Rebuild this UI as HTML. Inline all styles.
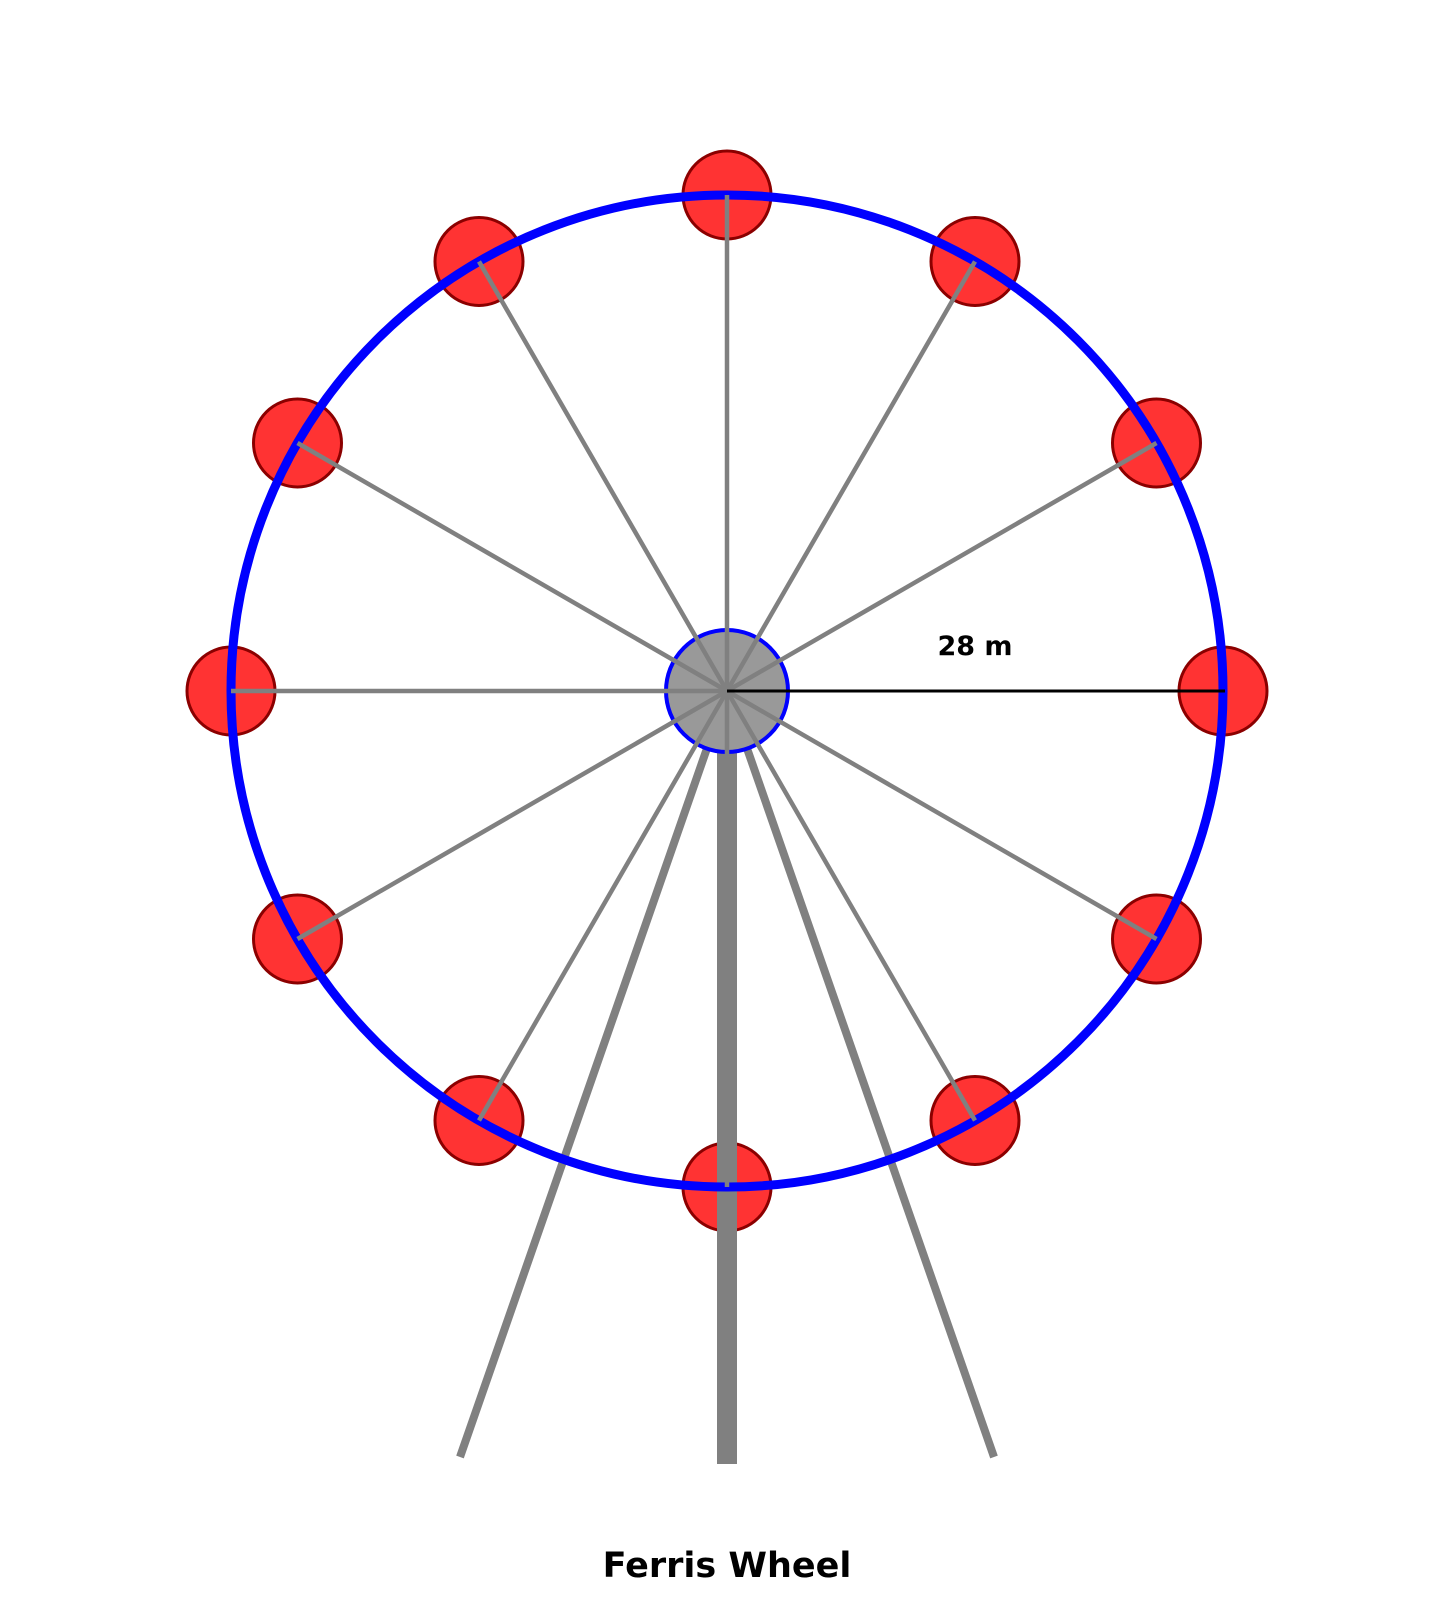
<!DOCTYPE html>
<html><head><meta charset="utf-8"><style>
html,body{margin:0;padding:0;background:#fff}
svg{display:block}
</style></head><body>
<svg width="1452" height="1600" viewBox="0 0 1452 1600" xmlns="http://www.w3.org/2000/svg">
<g fill="#ff3333" stroke="#8b0000" stroke-width="3">
<circle cx="727" cy="195" r="44"/>
<circle cx="975" cy="261.5" r="44"/>
<circle cx="1156.5" cy="443" r="44"/>
<circle cx="1223" cy="691" r="44"/>
<circle cx="1156.5" cy="939" r="44"/>
<circle cx="975" cy="1120.5" r="44"/>
<circle cx="727" cy="1187" r="44"/>
<circle cx="479" cy="1120.5" r="44"/>
<circle cx="297.5" cy="939" r="44"/>
<circle cx="231" cy="691" r="44"/>
<circle cx="297.5" cy="443" r="44"/>
<circle cx="479" cy="261.5" r="44"/>
</g>
<g stroke="#808080">
<line x1="727" y1="691" x2="727" y2="1464" stroke-width="20"/>
<line x1="727" y1="691" x2="460" y2="1457" stroke-width="8"/>
<line x1="727" y1="691" x2="994" y2="1457" stroke-width="8"/>
</g>
<circle cx="727" cy="691" r="496" fill="none" stroke="#0000ff" stroke-width="9"/>
<circle cx="727" cy="691" r="61" fill="#999" stroke="#0000ff" stroke-width="4"/>
<g stroke="#808080" stroke-width="4.5">
<line x1="727" y1="691" x2="727" y2="195"/>
<line x1="727" y1="691" x2="975" y2="261.5"/>
<line x1="727" y1="691" x2="1156.5" y2="443"/>
<line x1="727" y1="691" x2="1156.5" y2="939"/>
<line x1="727" y1="691" x2="975" y2="1120.5"/>
<line x1="727" y1="691" x2="727" y2="1187"/>
<line x1="727" y1="691" x2="479" y2="1120.5"/>
<line x1="727" y1="691" x2="297.5" y2="939"/>
<line x1="727" y1="691" x2="231" y2="691"/>
<line x1="727" y1="691" x2="297.5" y2="443"/>
<line x1="727" y1="691" x2="479" y2="261.5"/>
</g>
<line x1="727" y1="691" x2="1225" y2="691" stroke="#000" stroke-width="3"/>
<text x="975" y="655" font-family="DejaVu Sans, Liberation Sans, sans-serif" font-weight="bold" font-size="27" text-anchor="middle">28 m</text>
<text x="727" y="1577" font-family="DejaVu Sans, Liberation Sans, sans-serif" font-weight="bold" font-size="35" text-anchor="middle">Ferris Wheel</text>
</svg>
</body></html>
